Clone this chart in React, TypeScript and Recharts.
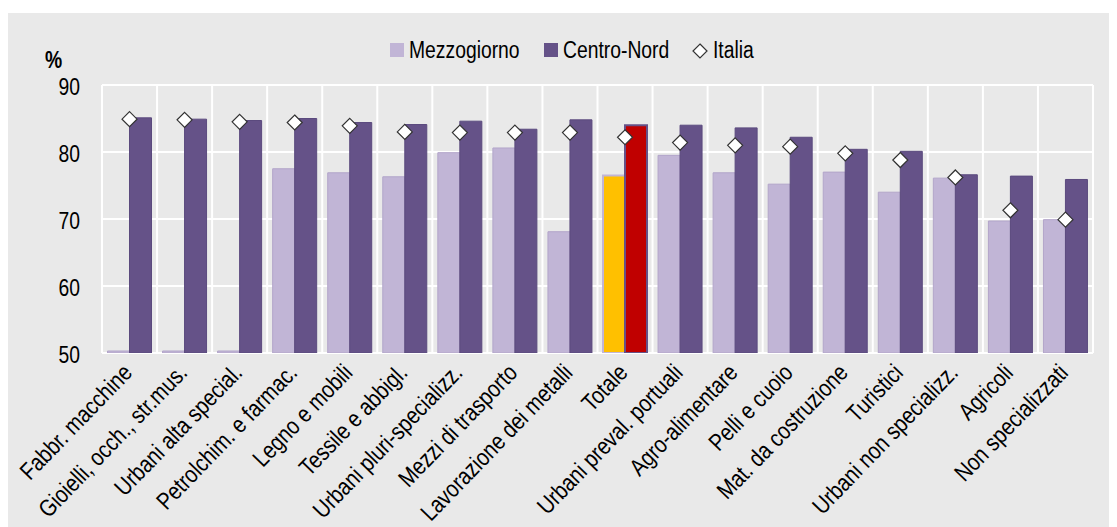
import { ComposedChart, Bar, Line, XAxis, YAxis, CartesianGrid, Cell } from 'recharts';

const categories = [
  'Fabbr. macchine',
  'Gioielli, occh., str.mus.',
  'Urbani alta special.',
  'Petrolchim. e farmac.',
  'Legno e mobili',
  'Tessile e abbigl.',
  'Urbani pluri-specializz.',
  'Mezzi di trasporto',
  'Lavorazione dei metalli',
  'Totale',
  'Urbani preval. portuali',
  'Agro-alimentare',
  'Pelli e cuoio',
  'Mat. da costruzione',
  'Turistici',
  'Urbani non specializz.',
  'Agricoli',
  'Non specializzati'
];

const mezzogiorno = [50.3, 50.3, 50.3, 77.5, 76.9, 76.3, 79.9, 80.6, 68.1, 76.5, 79.5, 76.9, 75.2, 77.0, 74.0, 76.1, 69.7, 69.9];
const centroNord = [85.1, 84.9, 84.7, 85.0, 84.4, 84.1, 84.6, 83.4, 84.8, 84.0, 84.0, 83.6, 82.2, 80.4, 80.1, 76.6, 76.4, 75.9];
const italia = [84.9, 84.8, 84.5, 84.4, 83.9, 83.0, 82.9, 82.9, 82.9, 82.2, 81.4, 81.0, 80.8, 79.8, 78.8, 76.2, 71.3, 69.9];

const yTicks = [50, 60, 70, 80, 90];

const data = categories.map((name, i) => ({
  name,
  mezzogiorno: mezzogiorno[i],
  centroNord: centroNord[i],
  italia: italia[i]
}));

// no narrow font installed: squeeze Liberation Sans horizontally instead
const FONT = "'Liberation Sans', Arial, sans-serif";
const SQUEEZE = 0.84;
const LIGHT = '#c1b5d6';
const DARK = '#655288';
const BG = '#e9e9e9';

const Diamond = (props: any) => {
  const { cx, cy } = props;
  if (cx == null || cy == null) return null;
  const r = 7.5;
  return (
    <polygon
      points={`${cx},${cy - r} ${cx + r},${cy} ${cx},${cy + r} ${cx - r},${cy}`}
      fill="#fff"
      stroke="#333"
      strokeWidth={1.2}
    />
  );
};

const CategoryTick = (props: any) => {
  const { x, y, payload } = props;
  return (
    <g transform={`translate(${x + 4},${y + 21}) rotate(-46)`}>
      <text transform={`scale(${SQUEEZE},1)`} textAnchor="end" fill="#000" fontSize={24} fontFamily={FONT}>
        {payload.value}
      </text>
    </g>
  );
};

const ValueTick = (props: any) => {
  const { x, y, payload } = props;
  return (
    <g transform={`translate(${x},${y + 2})`}>
      <text transform={`scale(${SQUEEZE},1)`} textAnchor="end" dy="0.355em" fill="#000" fontSize={23} fontFamily={FONT}>
        {payload.value}
      </text>
    </g>
  );
};

const legendText = (left: number, label: string) => (
  <span
    style={{
      position: 'absolute',
      left,
      top: 26,
      fontFamily: FONT,
      fontSize: 23,
      lineHeight: '23px',
      whiteSpace: 'nowrap',
      transform: `scaleX(${SQUEEZE})`,
      transformOrigin: '0 50%'
    }}
  >
    {label}
  </span>
);

export default function App() {
  const width = 1110;
  const height = 514;

  return (
    <div style={{ position: 'relative', marginLeft: -1, marginTop: 5, width, height, background: BG }}>
      <span
        style={{
          position: 'absolute',
          left: 38,
          top: 36,
          fontFamily: FONT,
          fontWeight: 'bold',
          fontSize: 23,
          lineHeight: '23px',
          transform: `scaleX(${SQUEEZE})`,
          transformOrigin: '0 50%'
        }}
      >
        %
      </span>
      <span style={{ position: 'absolute', left: 383, top: 30, width: 14, height: 14, background: LIGHT }} />
      {legendText(402, 'Mezzogiorno')}
      <span style={{ position: 'absolute', left: 537, top: 30, width: 14, height: 14, background: DARK }} />
      {legendText(556, 'Centro-Nord')}
      <svg style={{ position: 'absolute', left: 685, top: 30 }} width={16} height={16}>
        <polygon points="8,1 15,8 8,15 1,8" fill="#fff" stroke="#333" strokeWidth={1.2} />
      </svg>
      {legendText(706, 'Italia')}
      <ComposedChart
        width={width}
        height={height}
        data={data}
        margin={{ top: 72, right: 24, left: 35, bottom: 24 }}
        barCategoryGap="10%"
        barGap={0}
      >
        <CartesianGrid
          stroke="#fff"
          strokeWidth={2}
          verticalCoordinatesGenerator={({ offset }: any) =>
            categories.map((_, i) => offset.left + (i * offset.width) / categories.length).concat(offset.left + offset.width)
          }
        />
        <XAxis
          dataKey="name"
          interval={0}
          tickSize={0}
          tickMargin={0}
          axisLine={false}
          height={150}
          tick={<CategoryTick />}
        />
        <YAxis
          domain={[50, 90]}
          ticks={yTicks}
          allowDataOverflow
          width={60}
          tickSize={0}
          tickMargin={22}
          axisLine={false}
          tick={<ValueTick />}
        />
        <Bar dataKey="mezzogiorno" fill={LIGHT} stroke="#b2a5c9" strokeWidth={1} isAnimationActive={false}>
          {data.map((d, i) => (
            <Cell
              key={i}
              fill={d.name === 'Totale' ? '#ffc000' : LIGHT}
              stroke={d.name === 'Totale' ? LIGHT : '#b2a5c9'}
              strokeWidth={d.name === 'Totale' ? 2 : 1}
            />
          ))}
        </Bar>
        <Bar dataKey="centroNord" fill={DARK} stroke="#5b4a7e" strokeWidth={1} isAnimationActive={false}>
          {data.map((d, i) => (
            <Cell
              key={i}
              fill={d.name === 'Totale' ? '#c00000' : DARK}
              stroke={d.name === 'Totale' ? DARK : '#5b4a7e'}
              strokeWidth={d.name === 'Totale' ? 2 : 1}
            />
          ))}
        </Bar>
        <Line
          dataKey="italia"
          stroke="none"
          dot={<Diamond />}
          activeDot={false}
          isAnimationActive={false}
        />
      </ComposedChart>
    </div>
  );
}
